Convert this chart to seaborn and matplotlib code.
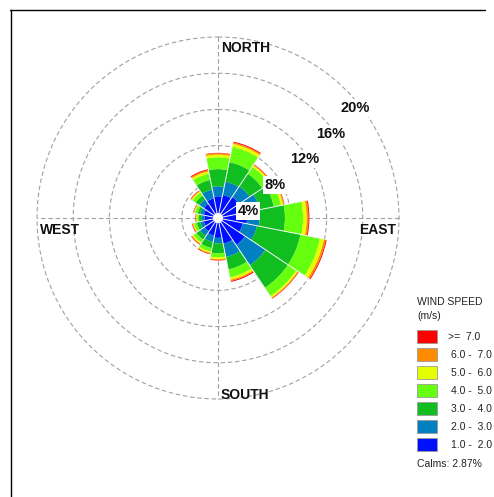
import numpy as np
import pandas as pd
import matplotlib
matplotlib.use("Agg")
import matplotlib.pyplot as plt
from matplotlib.patches import Rectangle
from matplotlib.lines import Line2D
import seaborn as sns

# ---- data: frequency (%) of each speed class per direction sector ----
directions = ["N", "NNE", "NE", "ENE", "E", "ESE", "SE", "SSE",
              "S", "SSW", "SW", "WSW", "W", "WNW", "NW", "NNW"]
speed_1_2 = [2.4, 2.6, 2.8, 3.1, 3.2, 2.8, 3.6, 2.9, 2.2, 2.0, 1.8, 1.6, 1.5, 1.6, 1.9, 2.2]
speed_2_3 = [1.1, 1.5, 1.4, 1.6, 1.4, 1.6, 2.7, 1.5, 0.6, 0.7, 0.6, 0.4, 0.3, 0.4, 0.6, 1.0]
speed_3_4 = [1.9, 2.2, 1.7, 1.6, 2.8, 4.9, 3.0, 1.4, 1.1, 0.7, 0.5, 0.4, 0.3, 0.3, 0.5, 1.1]
speed_4_5 = [1.3, 1.7, 0.9, 0.8, 2.0, 2.2, 1.1, 0.9, 0.45, 0.4, 0.4, 0.3, 0.2, 0.3, 0.4, 0.7]
speed_5_6 = [0.3, 0.35, 0.2, 0.25, 0.4, 0.45, 0.2, 0.25, 0.2, 0.15, 0.15, 0.1, 0.1, 0.1, 0.15, 0.25]
speed_6_7 = [0.15, 0.15, 0.1, 0.1, 0.2, 0.2, 0.1, 0.15, 0.1, 0.1, 0.1, 0.1, 0.05, 0.05, 0.1, 0.15]
speed_7_up = [0.05, 0.1, 0.05, 0.05, 0.1, 0.1, 0.05, 0.1, 0.05, 0.05, 0.05, 0.05, 0.05, 0.05, 0.05, 0.1]

speed_labels = ["1.0 -  2.0", "2.0 -  3.0", "3.0 -  4.0", "4.0 -  5.0",
                "5.0 -  6.0", "6.0 -  7.0", ">=  7.0"]
calms_pct = 2.87
ring_values = [4, 8, 12, 16, 20]

speed_colors = ["#0010FF", "#0080C0", "#10BE20", "#66FF10",
                "#E4FF00", "#FF8C00", "#FF0000"]

sns.set_theme(style="white")
plt.rcParams["font.family"] = ["Liberation Sans", "DejaVu Sans"]
palette = sns.color_palette(speed_colors)

df = pd.DataFrame({
    "direction": directions,
    speed_labels[0]: speed_1_2,
    speed_labels[1]: speed_2_3,
    speed_labels[2]: speed_3_4,
    speed_labels[3]: speed_4_5,
    speed_labels[4]: speed_5_6,
    speed_labels[5]: speed_6_7,
    speed_labels[6]: speed_7_up,
}).set_index("direction")

W, H = 494, 497
fig = plt.figure(figsize=(W / 100, H / 100), dpi=100)
fig.patch.set_facecolor("white")

def fx(px):
    return px / W

def fy(py):
    return 1 - py / H

# polar axes placed so the 20% ring has radius R pixels around (cx, cy)
cx, cy, R = 218, 218, 181
ax = fig.add_axes([fx(cx - R), fy(cy + R), 2 * R / W, 2 * R / H], projection="polar")
ax.set_theta_zero_location("N")
ax.set_theta_direction(-1)
ax.set_facecolor("none")

n = len(directions)
theta = np.arange(n) * 2 * np.pi / n
width = 2 * np.pi / n

# stacked speed classes
bottom = np.zeros(n)
for label, color in zip(speed_labels, palette):
    vals = df[label].to_numpy()
    ax.bar(theta, vals, width=width, bottom=bottom, color=color,
           edgecolor="none", linewidth=0, zorder=3, align="center")
    bottom = bottom + vals
totals = bottom

# thin light separators between sectors
for k in range(n):
    edge = theta[k] - width / 2
    reach = max(totals[k], totals[k - 1])
    ax.plot([edge, edge], [0, reach], color="#f2f2f2", lw=0.7, zorder=4)

# calm circle at the centre
ax.bar(0, 0.55, width=2 * np.pi, bottom=0, color="white", edgecolor="none", zorder=5)

# dashed grid
ax.set_ylim(0, 20)
ax.set_yticks([])
ax.set_xticks([])
ax.grid(False)
ax.spines["polar"].set_visible(False)
circ = np.linspace(0, 2 * np.pi, 400)
for rv in ring_values:
    ax.plot(circ, np.full_like(circ, rv), color="#a0a0a0", lw=0.8,
            ls=(0, (4, 2.5)), zorder=1, clip_on=False)
for ang in [0, np.pi / 2]:
    ax.plot([ang, ang + np.pi], [20, 20], color="#a0a0a0", lw=0.8,
            ls=(0, (4, 2.5)), zorder=1, clip_on=False)

# compass labels
lab_kw = dict(fontsize=10, fontweight="bold", color="#111111")
fig.text(fx(221), fy(48), "NORTH", ha="left", va="center", **lab_kw)
fig.text(fx(221), fy(395), "SOUTH", ha="left", va="center", **lab_kw)
fig.text(fx(40), fy(230), "WEST", ha="left", va="center", **lab_kw)
fig.text(fx(396), fy(230), "EAST", ha="right", va="center", **lab_kw)

# ring percentage labels
ring_label_pos = [(248, 211), (275, 185), (305, 159), (331, 134), (355, 108)]
for rv, (px, py) in zip(ring_values, ring_label_pos):
    fig.text(fx(px), fy(py), f"{rv}%", ha="center", va="center",
             fontsize=10.5, fontweight="bold", color="#111111",
             bbox=dict(boxstyle="square,pad=0.12", fc="white", ec="none"),
             zorder=10)

# legend
fig.text(fx(417), fy(302), "WIND SPEED", ha="left", va="center", fontsize=7.5, color="#222222")
fig.text(fx(417), fy(316), "(m/s)", ha="left", va="center", fontsize=7.5, color="#222222")
box_top0, step = 330, 18
for i, (label, color) in enumerate(zip(reversed(speed_labels), reversed(palette))):
    top = box_top0 + i * step
    fig.add_artist(Rectangle((fx(417), fy(top + 13)), 20 / W, 13 / H,
                             facecolor=color, edgecolor="#9a9a9a", lw=0.6,
                             transform=fig.transFigure))
    tx = 448 if label.startswith(">=") else 451
    fig.text(fx(tx), fy(top + 6.5), label, ha="left", va="center",
             fontsize=7.5, color="#222222")
fig.text(fx(417), fy(464), f"Calms: {calms_pct:.2f}%", ha="left", va="center",
         fontsize=7.5, color="#222222")

# frame lines on top and left
fig.add_artist(Line2D([fx(10), fx(485)], [fy(9.5), fy(9.5)], color="black", lw=1.0,
                      transform=fig.transFigure))
fig.add_artist(Line2D([fx(10.5), fx(10.5)], [fy(9.5), 0], color="black", lw=1.0,
                      transform=fig.transFigure))

fig.savefig("out.png", dpi=100, facecolor="white")
